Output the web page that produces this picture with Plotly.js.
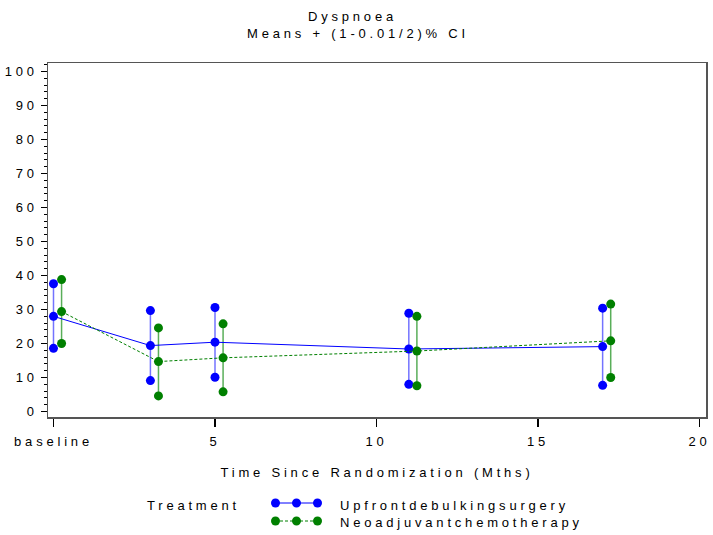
<!DOCTYPE html>
<html>
<head>
<meta charset="utf-8">
<script src="https://cdn.plot.ly/plotly-3.0.1.min.js"></script>
<style>
  html, body { margin: 0; padding: 0; background: #fff; }
  #chart { width: 713px; height: 535px; }
  svg text { letter-spacing: 3.8px; }
</style>
</head>
<body>
<div id="chart"></div>
<script>
// ---- data ----
const timeUpfront = [0, 3, 5, 11, 17];
const timeNeo = [0.25, 3.25, 5.25, 11.25, 17.25];

const upfrontMean  = [28.0, 19.4, 20.4, 18.4, 19.1];
const upfrontLower = [18.6, 9.1, 10.1, 8.0, 7.7];
const upfrontUpper = [37.6, 29.7, 30.6, 28.9, 30.4];

const neoMean  = [29.4, 14.7, 15.8, 17.8, 20.8];
const neoLower = [20.0, 4.6, 5.8, 7.6, 10.0];
const neoUpper = [38.8, 24.6, 25.8, 28.0, 31.6];

const seriesNames = ['Upfrontdebulkingsurgery', 'Neoadjuvantchemotherapy'];
const legendTitle = 'Treatment';
const titleLines = ['Dyspnoea', 'Means + (1-0.01/2)% CI'];
const xTitle = 'Time Since Randomization (Mths)';
const xTickVals = [0, 5, 10, 15, 20];
const xTickText = ['baseline', '5', '10', '15', '20'];
const yTickVals = [0, 10, 20, 30, 40, 50, 60, 70, 80, 90, 100];

const BLUE = '#0000ff', GREEN = '#008000';

// ---- build traces ----
function ciTrace(xs, lo, hi, lineColor, markerColor) {
  const x = [], y = [];
  xs.forEach((v, i) => { x.push(v, v, null); y.push(lo[i], hi[i], null); });
  return {
    x: x, y: y, type: 'scatter', mode: 'lines+markers',
    line: { color: lineColor, width: 1.5 },
    marker: { color: markerColor, size: 9 },
    showlegend: false, hoverinfo: 'skip', connectgaps: false
  };
}

const traces = [
  ciTrace(timeUpfront, upfrontLower, upfrontUpper, 'rgba(90,90,255,0.85)', BLUE),
  ciTrace(timeNeo, neoLower, neoUpper, 'rgba(60,160,60,0.85)', GREEN),
  {
    x: timeUpfront, y: upfrontMean, type: 'scatter', mode: 'lines+markers',
    name: seriesNames[0],
    line: { color: BLUE, width: 1 },
    marker: { color: BLUE, size: 9 }
  },
  {
    x: timeNeo, y: neoMean, type: 'scatter', mode: 'lines+markers',
    name: seriesNames[1],
    line: { color: GREEN, width: 1, dash: '3px,2px' },
    marker: { color: GREEN, size: 9 }
  }
];

const font = { family: 'Liberation Sans, Arial, sans-serif', size: 13, color: '#000' };

// pixel -> paper helpers (plot area: x 48..706, y 63..417)
const L = 48, R = 7, T = 63, B = 118, W = 713, H = 535;
const pw = W - L - R, ph = H - T - B;
const px = v => (v - L) / pw;
const py = v => (H - B - v) / ph;

const annotations = [
  { text: titleLines[0], x: px(352), y: py(17), xanchor: 'center', yanchor: 'middle' },
  { text: titleLines[1], x: px(358), y: py(34), xanchor: 'center', yanchor: 'middle' },
  { text: legendTitle, x: px(145), y: py(505), xanchor: 'left', yanchor: 'middle' },
  { text: seriesNames[0], x: px(338), y: py(505), xanchor: 'left', yanchor: 'middle' },
  { text: seriesNames[1], x: px(338), y: py(522), xanchor: 'left', yanchor: 'middle' }
].map(a => Object.assign({ xref: 'paper', yref: 'paper', showarrow: false, font: font }, a));

// legend samples (line with three markers)
const shapes = [];
function legendSample(yPix, color, dash) {
  shapes.push({ type: 'line', xref: 'paper', yref: 'paper',
    x0: px(275), x1: px(318), y0: py(yPix), y1: py(yPix),
    line: { color: color, width: 1, dash: dash } });
  [275.5, 296.5, 317.5].forEach(c => {
    shapes.push({ type: 'circle', xref: 'paper', yref: 'paper',
      xsizemode: 'pixel', ysizemode: 'pixel',
      xanchor: px(c), yanchor: py(yPix),
      x0: -4.5, x1: 4.5, y0: -4.5, y1: 4.5,
      fillcolor: color, line: { width: 0 } });
  });
}
legendSample(503, BLUE, 'solid');
legendSample(521, GREEN, '3px,2px');

const layout = {
  width: W, height: H,
  margin: { l: L, r: R, t: T, b: B },
  paper_bgcolor: '#fff', plot_bgcolor: '#fff',
  font: font,
  showlegend: false,
  xaxis: {
    range: [-0.17, 20.2],
    tickmode: 'array', tickvals: xTickVals, ticktext: xTickText,
    ticks: 'outside', ticklen: 8, tickwidth: 1.2, tickcolor: '#000',
    ticklabelstandoff: 4,
    showgrid: false, zeroline: false,
    showline: true, linecolor: '#555', linewidth: 1.5, mirror: true,
    title: { text: xTitle, font: font, standoff: 20 },
    tickfont: font, automargin: false
  },
  yaxis: {
    range: [-1.6, 102.5],
    tickmode: 'array', tickvals: yTickVals,
    ticks: 'outside', ticklen: 6, tickwidth: 1.2, tickcolor: '#000',
    minor: { dtick: 2, ticks: 'outside', ticklen: 3, tickcolor: '#000', tickwidth: 1, showgrid: false },
    showgrid: false, zeroline: false,
    showline: true, linecolor: '#555', linewidth: 1.5, mirror: true,
    tickfont: font, automargin: false
  },
  annotations: annotations,
  shapes: shapes
};

Plotly.newPlot('chart', traces, layout, { displayModeBar: false, staticPlot: true });
</script>
</body>
</html>
